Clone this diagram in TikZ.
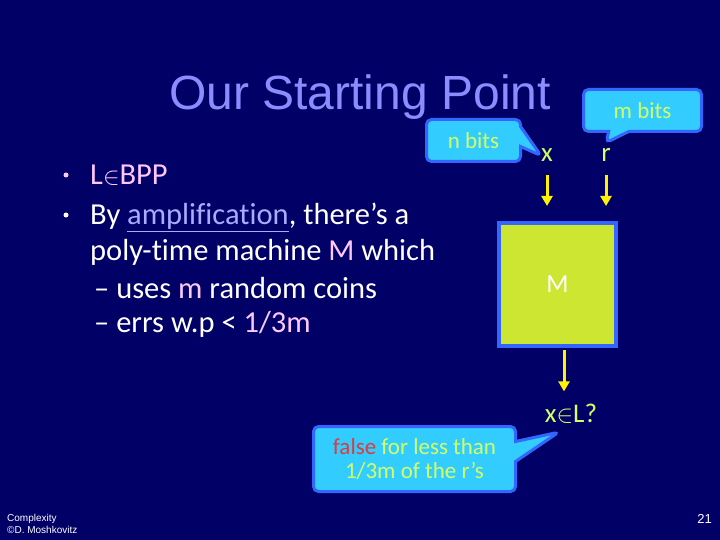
\documentclass[tikz,border=0pt]{standalone}
\usepackage{fontspec}
\setmainfont{Carlito}[Ligatures={NoCommon}]
\newfontfamily\titlefont{Liberation Sans}
\usetikzlibrary{positioning, arrows.meta, shapes.callouts}

\definecolor{slidebg}{RGB}{0,0,102}
\definecolor{titleblue}{RGB}{140,140,255}
\definecolor{pinkish}{RGB}{255,200,255}
\definecolor{linkblue}{RGB}{170,170,255}
\definecolor{bubblefill}{RGB}{51,204,255}
\definecolor{bubbleedge}{RGB}{51,102,255}
\definecolor{bubbletext}{RGB}{210,255,100}
\definecolor{machinefill}{RGB}{204,230,50}
\definecolor{falsered}{RGB}{220,60,60}

\newcommand{\pinktext}[1]{\textcolor{pinkish}{#1}}

\begin{document}
\begin{tikzpicture}[
  x=1pt, y=-1pt,
  >={Triangle[length=10pt, width=11pt]},
  heading/.style={font=\titlefont\fontsize{48}{56}\selectfont, text=titleblue, anchor=base, inner sep=0pt},
  item/.style={font=\fontsize{30.5}{36}\selectfont, text=white, anchor=base west, inner sep=0pt},
  dot/.style={circle, minimum size=5pt, inner sep=0pt},
  bubble/.style={rectangle callout, rounded corners=5pt, draw=bubbleedge, fill=bubblefill, line width=3pt, text=bubbletext, font=\fontsize{23}{24}\selectfont, align=center, inner sep=0pt, callout pointer width=20pt},
  machine/.style={draw=bubbleedge, fill=machinefill, line width=4pt, minimum width=117pt, minimum height=123pt, text=white, font=\fontsize{26}{30}\selectfont},
  wirelabel/.style={text=bubbletext, font=\fontsize{27}{30}\selectfont, anchor=base, inner sep=0pt},
  wire/.style={->, draw=yellow, line width=3pt},
  foot/.style={font=\titlefont\fontsize{10}{12}\selectfont, text=white, anchor=base west, inner sep=0pt}
]

% Slide background fixes the page size
\fill[slidebg] (0,0) rectangle (720,540);
\useasboundingbox (0,0) rectangle (720,540);

% Title
\node[heading] (title) at (360,110) {Our Starting Point};

% Bullet list
\node[dot, fill=pinkish] (dot1) at (66,175) {};
\node[dot, fill=white] (dot2) at (66,215) {};
\node[item] (bpp) at (90,185) {\pinktext{L$\in$BPP}};
\node[item] (amp) at (90,225) {By {\color{linkblue}\underline{amplification}}, there’s a};
\node[item] (poly) at (90,260) {poly-time machine \pinktext{M} which};
\node[item] (coins) at (94,298) {– uses \pinktext{m} random coins};
\node[item] (errs) at (94,332) {– errs w.p < \pinktext{1/3m}};

% Machine with its inputs and output
\node[machine] (M) at (557.5,284.5) {M};
\node[wirelabel] (x) at (547,162) {x};
\node[wirelabel] (r) at (606,162) {r};
\node[wirelabel] (q) at (571,422) {x$\in$L?};

\draw[wire, shorten <=13pt, shorten >=15pt] (x.south) -- (x.south |- M.north);
\draw[wire, shorten <=13pt, shorten >=15pt] (r.south) -- (r.south |- M.north);
\draw[wire, shorten <=2pt, shorten >=12pt] ([xshift=6.5pt]M.south) -- ([xshift=6.5pt]M.south |- q.north);

% Callouts
\node[bubble, minimum width=94pt, minimum height=42pt,
  callout absolute pointer={(x.west)}] (nbits) at (473.5,140.5) {n bits};
\node[bubble, minimum width=118pt, minimum height=42pt,
  callout absolute pointer={([yshift=6pt]r.north)}] (mbits) at (642.5,110.5) {m bits};
\node[bubble, minimum width=202pt, minimum height=65pt,
  callout absolute pointer={([shift={(14pt,-9pt)}]q.south west)}] (falsenote) at (414.5,459)
  {\textcolor{falsered}{false} for less than\\1/3m of the r’s};

% Footer
\node[foot] (course) at (7,521) {Complexity};
\node[foot] (author) at (7,533) {©D. Moshkovitz};
\node[foot, font=\titlefont\fontsize{13}{15}\selectfont, anchor=base east] (page) at (712,523) {21};

\end{tikzpicture}
\end{document}
